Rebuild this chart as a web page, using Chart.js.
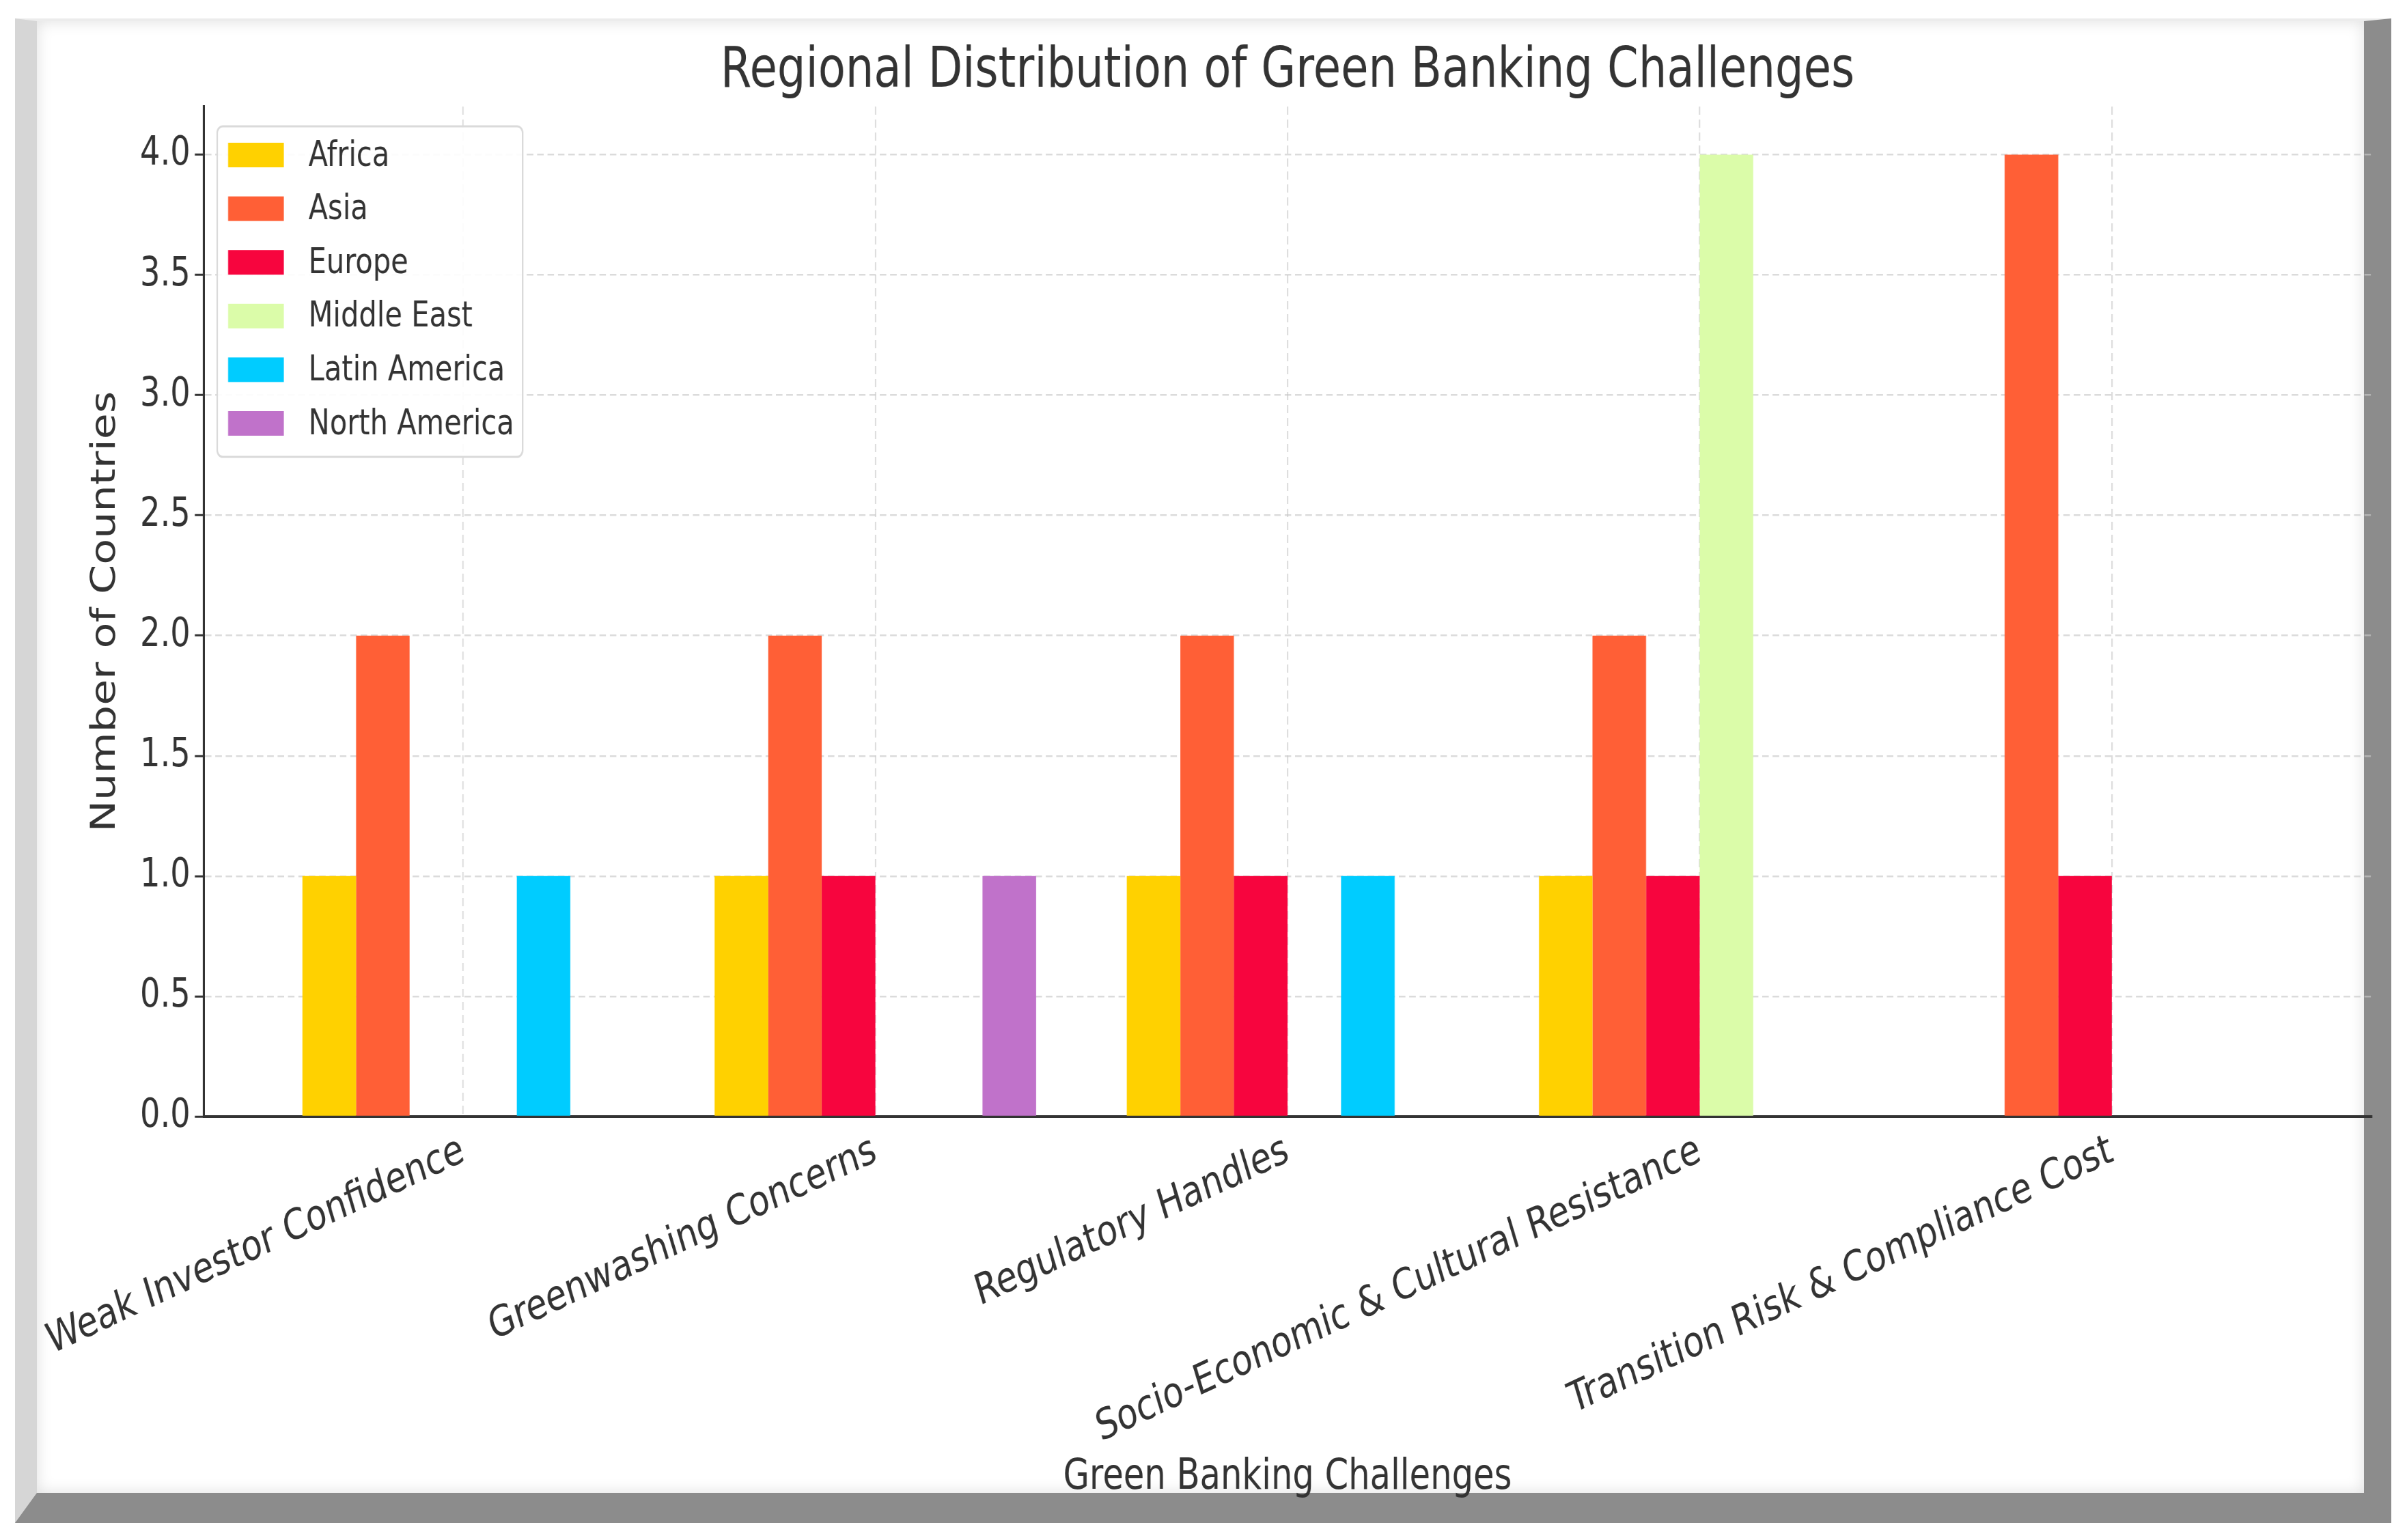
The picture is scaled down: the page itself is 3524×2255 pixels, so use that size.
<!DOCTYPE html>
<html>
<head>
<meta charset="utf-8">
<title>Regional Distribution of Green Banking Challenges</title>
<script src="https://cdn.jsdelivr.net/npm/chart.js@4.4.1/dist/chart.umd.min.js"></script>
<style>
  html, body { margin: 0; padding: 0; background: #fff; }
  body { width: 3524px; height: 2255px; position: relative; overflow: hidden; }
  #frame {
    position: absolute; left: 22px; top: 27px; width: 3479px; height: 2203px;
    box-sizing: border-box; background: #fff;
    border-style: solid; border-width: 4px 40px 44px 32px;
    border-color: #ececec #8c8c8c #8c8c8c #d6d6d6;
    box-shadow: inset 0 0 22px rgba(0, 0, 0, 0.13);
  }
  /* the original picture is squeezed sideways, so draw wide and squeeze */
  #wrap { position: absolute; left: 0; top: 0; width: 4405px; height: 2255px; transform: scaleX(0.8); transform-origin: 0 0; }
</style>
</head>
<body>
<div id="frame"></div>
<div id="wrap"><canvas id="chart" width="4405" height="2255"></canvas></div>
<script>
const categories = [
  'Weak Investor Confidence',
  'Greenwashing Concerns',
  'Regulatory Handles',
  'Socio-Economic & Cultural Resistance',
  'Transition Risk & Compliance Cost',
];
const regions = ['Africa', 'Asia', 'Europe', 'Middle East', 'Latin America', 'North America'];
const colors = ['#FFD100', '#FF5F36', '#F7053E', '#DBFCA9', '#00CCFF', '#C072CA'];

const africa = [1, 1, 1, 1, 0];
const asia = [2, 2, 2, 2, 4];
const europe = [0, 1, 1, 1, 1];
const middleEast = [0, 0, 0, 4, 0];
const latinAmerica = [1, 0, 1, 0, 0];
const northAmerica = [0, 1, 0, 0, 0];

const yTicks = [0, 0.5, 1, 1.5, 2, 2.5, 3, 3.5, 4];

const counts = [africa, asia, europe, middleEast, latinAmerica, northAmerica];

Chart.defaults.font.family = '"DejaVu Sans", sans-serif';
Chart.defaults.color = '#333';

// matplotlib-style legend box inside the plot, top left
const boxLegend = {
  id: 'boxLegend',
  afterDraw(chart) {
    const { ctx, chartArea } = chart;
    const x0 = chartArea.left + 25;
    const y0 = chartArea.top + 29;
    ctx.save();
    ctx.beginPath();
    ctx.roundRect(x0, y0, 559, 484, 10);
    ctx.fillStyle = 'rgba(255,255,255,0.9)';
    ctx.fill();
    ctx.lineWidth = 3;
    ctx.strokeStyle = '#dadada';
    ctx.stroke();
    ctx.font = '52px "DejaVu Sans"';
    ctx.textBaseline = 'middle';
    chart.data.datasets.forEach((ds, i) => {
      const cy = y0 + 42 + i * 78.6;
      ctx.fillStyle = ds.backgroundColor;
      ctx.fillRect(x0 + 20, cy - 18, 102, 36);
      ctx.fillStyle = '#333';
      ctx.fillText(ds.label, x0 + 167, cy + 2);
    });
    ctx.restore();
  }
};

const gridColor = 'rgba(200,200,200,0.65)';

new Chart(document.getElementById('chart'), {
  type: 'bar',
  data: {
    datasets: regions.map((r, j) => ({
      label: r,
      data: categories.map((c, i) => ({ x: i, y: counts[j][i] })),
      backgroundColor: colors[j],
      borderWidth: 0,
      categoryPercentage: 0.78,
      barPercentage: 1,
    })),
  },
  options: {
    responsive: false,
    animation: false,
    layout: { padding: { left: 0, right: 65, top: 0, bottom: 0 } },
    plugins: {
      legend: { display: false },
      tooltip: { enabled: false },
      title: {
        display: true,
        fullSize: false,
        text: 'Regional Distribution of Green Banking Challenges',
        color: '#333',
        font: { size: 82, weight: 'normal' },
        padding: { top: 57, bottom: 0.6 },
      },
    },
    scales: {
      x: {
        type: 'linear',
        offset: false,
        min: -0.63,
        max: 4.63,
        z: 1,
        afterBuildTicks: (scale) => { scale.ticks = categories.map((c, i) => ({ value: i })); },
        afterFit: (scale) => { scale.height = 620; },
        ticks: {
          autoSkip: false,
          minRotation: 20.5,
          maxRotation: 20.5,
          padding: 14,
          color: '#333',
          font: { size: 62 },
          callback: (v) => categories[v],
        },
        grid: { offset: false, color: gridColor, lineWidth: 2.5, drawTicks: false },
        border: { display: true, color: '#333', width: 4, dash: [12, 7] },
        title: {
          display: true,
          text: 'Green Banking Challenges',
          color: '#333',
          font: { size: 62 },
          padding: { top: 0, bottom: 54 },
        },
      },
      y: {
        min: 0,
        max: 4.2,
        z: 1,
        afterBuildTicks: (scale) => { scale.ticks = yTicks.map((v) => ({ value: v })); },
        afterFit: (scale) => { scale.width = 372.5; },
        ticks: {
          padding: 8,
          color: '#333',
          font: { size: 58 },
          callback: (v) => v.toFixed(1),
        },
        grid: {
          color: gridColor, lineWidth: 2.5,
          drawTicks: true, tickLength: 16, tickWidth: 3, tickColor: '#333', tickBorderDash: [1, 0],
        },
        border: { display: true, color: '#333', width: 4, dash: [12, 7] },
        title: {
          display: true,
          text: 'Number of Countries',
          color: '#333',
          font: { size: 62 },
          padding: { top: 156.5, bottom: 0 },
        },
      },
    },
  },
  plugins: [boxLegend],
});
</script>
</body>
</html>
